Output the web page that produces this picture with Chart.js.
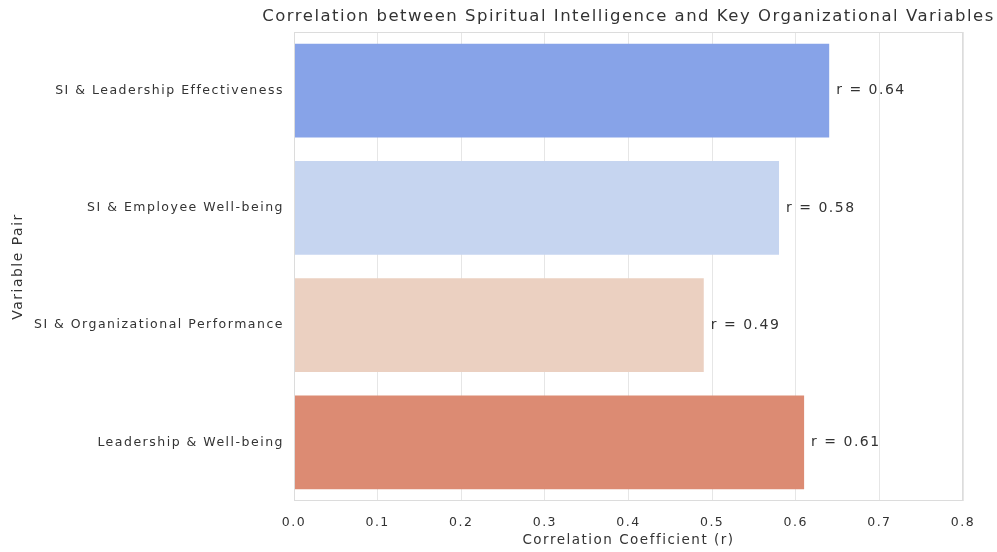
<!DOCTYPE html>
<html>
<head>
<meta charset="utf-8">
<script src="https://cdn.jsdelivr.net/npm/chart.js@4"></script>
<style>
html,body{margin:0;padding:0;background:#fff;}
#wrap{width:997px;height:552px;position:relative;}
</style>
</head>
<body>
<div id="wrap"><canvas id="c" width="997" height="552"></canvas></div>
<script>
const titleText = "Correlation between Spiritual Intelligence and Key Organizational Variables";
const categories = ["SI & Leadership Effectiveness","SI & Employee Well-being","SI & Organizational Performance","Leadership & Well-being"];
const rValues = [0.64, 0.58, 0.49, 0.61];
const barColors = ["#87a3e8","#c6d5f0","#ebd0c1","#dc8b73"];
const xTicks = [0.0,0.1,0.2,0.3,0.4,0.5,0.6,0.7,0.8];

const FONT = "'DejaVu Sans', sans-serif";
const TXT = "#333333";
const SPACING = '1.5px';

const spacingPlugin = {
  id: 'spacing',
  beforeDraw(chart) { chart.ctx.letterSpacing = SPACING; }
};

const plotTitle = {
  id: 'plotTitle',
  afterDraw(chart) {
    const a = chart.chartArea, ctx = chart.ctx;
    ctx.save();
    ctx.letterSpacing = SPACING;
    ctx.font = "16.5px " + FONT;
    ctx.fillStyle = TXT;
    ctx.textAlign = 'center';
    ctx.textBaseline = 'middle';
    ctx.fillText(titleText, (a.left + a.right) / 2, 16.5);
    ctx.restore();
  }
};

const valueLabels = {
  id: 'valueLabels',
  afterDatasetsDraw(chart) {
    const ctx = chart.ctx;
    const meta = chart.getDatasetMeta(0);
    ctx.save();
    ctx.letterSpacing = SPACING;
    ctx.font = "14px " + FONT;
    ctx.fillStyle = TXT;
    ctx.textAlign = 'left';
    ctx.textBaseline = 'middle';
    meta.data.forEach((bar, i) => {
      ctx.fillText('r = ' + rValues[i].toFixed(2), bar.x + 7, bar.y);
    });
    ctx.restore();
  }
};

const plotBorder = {
  id: 'plotBorder',
  afterDraw(chart) {
    const a = chart.chartArea, ctx = chart.ctx;
    ctx.save();
    ctx.strokeStyle = '#dcdcdc';
    ctx.lineWidth = 1;
    ctx.strokeRect(a.left + 0.5, a.top + 0.5, a.right - a.left - 1, a.bottom - a.top - 1);
    ctx.restore();
  }
};

new Chart(document.getElementById('c'), {
  type: 'bar',
  data: {
    labels: categories,
    datasets: [{
      data: rValues,
      backgroundColor: barColors,
      borderWidth: 0,
      barPercentage: 0.8,
      categoryPercentage: 1.0
    }]
  },
  options: {
    indexAxis: 'y',
    responsive: false,
    animation: false,
    layout: { padding: { left: 0, right: 34, top: 32, bottom: 0 } },
    plugins: {
      legend: { display: false },
      tooltip: { enabled: false },
      title: { display: false }
    },
    scales: {
      x: {
        min: 0, max: 0.8,
        afterBuildTicks(scale) { scale.ticks = xTicks.map(v => ({ value: v })); },
        afterFit(scale) { scale.height = 51; },
        grid: { color: '#e6e6e6', drawTicks: false },
        border: { display: false },
        ticks: {
          color: TXT, padding: 14,
          font: { family: FONT, size: 12.5 },
          callback: v => Number(v).toFixed(1)
        },
        title: {
          display: true, text: 'Correlation Coefficient (r)', color: TXT,
          font: { family: FONT, size: 13.5 }, padding: { top: 2, bottom: 3 }
        }
      },
      y: {
        afterFit(scale) { scale.width = 294; },
        grid: { display: false, drawTicks: false },
        border: { display: false },
        ticks: { color: TXT, padding: 10, font: { family: FONT, size: 12.5 } },
        title: {
          display: true, text: 'Variable Pair', color: TXT,
          font: { family: FONT, size: 14 }, padding: { top: 10, bottom: 10 }
        }
      }
    }
  },
  plugins: [spacingPlugin, valueLabels, plotBorder, plotTitle]
});
</script>
</body>
</html>
